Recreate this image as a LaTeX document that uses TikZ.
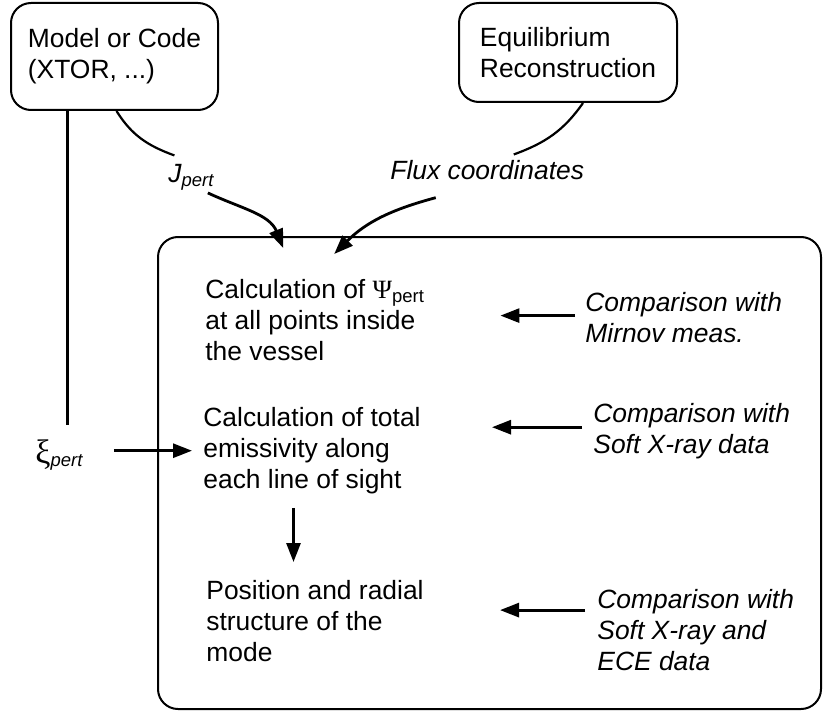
\documentclass[tikz,border=0pt]{standalone}
\usepackage{fontspec}
\usepackage{tikz}
\usetikzlibrary{arrows.meta}
\setmainfont{Liberation Sans}
\newfontfamily\greekfont{Liberation Serif}

\tikzset{
  srcbox/.style={draw,line width=1pt,rounded corners=10pt,align=left,inner sep=0pt},
  txt/.style={align=left,inner sep=0pt,font=\fontsize{13.2pt}{15.5pt}\selectfont},
  itxt/.style={txt,font=\fontsize{13.2pt}{15.5pt}\selectfont\itshape},
  link/.style={line width=1.1pt},
  arr/.style={line width=1.4pt,-{Triangle[length=9.5pt,width=7pt]}},
}

\begin{document}
\begin{tikzpicture}[x=0.5pt,y=-0.5pt]
\useasboundingbox (0,0) rectangle (823,711);

\node[srcbox,txt,minimum width=103.5pt,minimum height=53.5pt] (model) at (114.5,56.5) {Model or Code\\(XTOR, ...)};
\node[srcbox,txt,minimum width=109pt,minimum height=49.5pt] (equil) at (568,52.5) {Equilibrium\\Reconstruction};
\node[draw,line width=1pt,rounded corners=10pt,minimum width=331.5pt,minimum height=236pt] (frame) at (489.5,473) {};

\node[txt,anchor=north west] (calc1) at (205,279) {Calculation of {\greekfont Ψ}\textsubscript{pert}\\at all points inside\\the vessel};
\node[txt,anchor=north west] (calc2) at (203,407) {Calculation of total\\emissivity along\\each line of sight};
\node[txt,anchor=north west] (mode) at (206,580) {Position and radial\\structure of the\\mode};

\node[itxt,anchor=north west] (cmp1) at (585,292) {Comparison with\\Mirnov meas.};
\node[itxt,anchor=north west] (cmp2) at (593,403) {Comparison with\\Soft X-ray data};
\node[itxt,anchor=north west] (cmp3) at (597,589) {Comparison with\\Soft X-ray and\\ECE data};

\node[itxt,anchor=base west] (jpert) at (168,183) {J\textsubscript{pert}};
\node[itxt,anchor=base west] (flux) at (390,180) {Flux coordinates};
\node[txt,anchor=base west] (xi) at (35,463) {{\greekfont\fontsize{17pt}{17pt}\selectfont ξ}\textsubscript{\itshape pert}};

% inputs from the top boxes
\draw[link] ([xshift=1pt]model.south) to[out=-58,in=160] ([xshift=-8.5pt,yshift=4.5pt]jpert.north);
\draw[arr] ([xshift=-3.5pt,yshift=-1pt]jpert.south east) to[out=-25,in=112] ([xshift=-16pt,yshift=15.5pt]calc1.north);
\draw[link] ([xshift=7.5pt]equil.south) to[out=-125,in=20] ([xshift=13.25pt,yshift=3pt]flux.north);
\draw[arr] ([xshift=-25.75pt,yshift=-8.5pt]flux.south) to[out=195,in=45] ([xshift=9.5pt,yshift=12.5pt]calc1.north);
\draw[link] ([xshift=4pt]xi.north |- model.south) -- ([xshift=4pt,yshift=7pt]xi.north);
\draw[arr,shorten <=15pt,shorten >=5.5pt] (xi.east |- calc2.west) -- (calc2.west);

% inside the frame
\draw[arr,shorten <=6.75pt,shorten >=9pt] ([xshift=-9.25pt]calc2.south) -- ([xshift=-9.25pt]calc2.south |- mode.north);

% comparisons
\draw[arr,shorten <=5pt,shorten >=37.5pt] ([yshift=1pt]cmp1.west) -- ([yshift=1pt]cmp1.west -| calc1.east);
\draw[arr,shorten <=5.5pt,shorten >=35.5pt] ([yshift=2pt]cmp2.west) -- ([yshift=2pt]cmp2.west -| calc2.east);
\draw[arr,shorten <=6pt,shorten >=38pt] ([yshift=10pt]cmp3.west) -- ([yshift=10pt]cmp3.west -| mode.east);
\end{tikzpicture}
\end{document}
